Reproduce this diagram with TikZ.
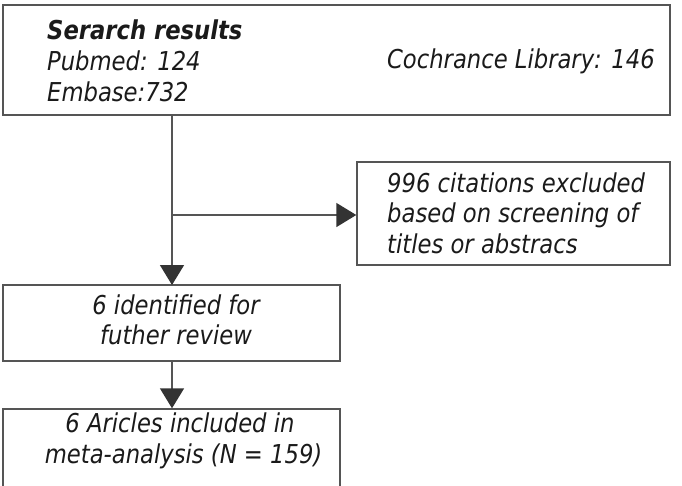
\documentclass[tikz,border=0pt]{standalone}
\usepackage{fontspec}
\setmainfont[FakeStretch=0.97]{DejaVu Sans Condensed}
\usetikzlibrary{arrows.meta}
\definecolor{boxline}{HTML}{555555}
\definecolor{arrowc}{HTML}{333333}
\definecolor{txt}{HTML}{1A1A1A}
\tikzset{
  box/.style={draw=boxline, line width=1.4pt, rectangle, inner sep=0pt},
  conn/.style={draw=boxline, line width=1.4pt},
  tip/.style={-{Triangle[length=20pt,width=24pt,color=arrowc]}},
  lbl/.style={inner sep=0pt, text=txt, font=\fontsize{26}{30.5}\selectfont\itshape}
}
\begin{document}
\begin{tikzpicture}[x=1pt,y=-1pt]
\useasboundingbox (0,0) rectangle (682,485);
% boxes
\node[box, minimum width=667pt, minimum height=110pt] (search) at (336.5,60) {};
\node[box, minimum width=313pt, minimum height=103pt] (excl) at (513.5,213.5) {};
\node[box, minimum width=337pt, minimum height=76pt] (ident) at (171.5,323) {};
\node[box, minimum width=337pt, minimum height=120pt] (incl) at (171.5,469) {};
% texts
\node[lbl, anchor=west, font=\fontsize{26}{30.5}\selectfont\bfseries\itshape] (t1) at (47,30) {Serarch results};
\node[lbl, anchor=west] (t2) at (47,61) {Pubmed: 124};
\node[lbl, anchor=west] (t3) at (47,92) {Embase:732};
\node[lbl, anchor=east] (t4) at (655,61) {Cochrance Library: 146};
\node[lbl, anchor=west, align=left] (t5) at (387,213) {996 citations excluded\\based on screening of\\titles or abstracs};
\node[lbl, align=center] (t6) at (176,320) {6 identified for\\futher review};
\node[lbl, align=center] (t7) at (180,441) {6 Aricles included in\\\ meta-analysis (N = 159)};
% connectors
\coordinate (top) at (172,115);
\coordinate (branch) at (172,215);
\coordinate (bot) at (172,285);
\draw[conn, tip] (top) -- (bot);
\draw[conn, tip] (branch) -- (excl.west |- branch);
\draw[conn, tip] (ident.south -| top) -- (incl.north -| top);
\end{tikzpicture}
\end{document}
